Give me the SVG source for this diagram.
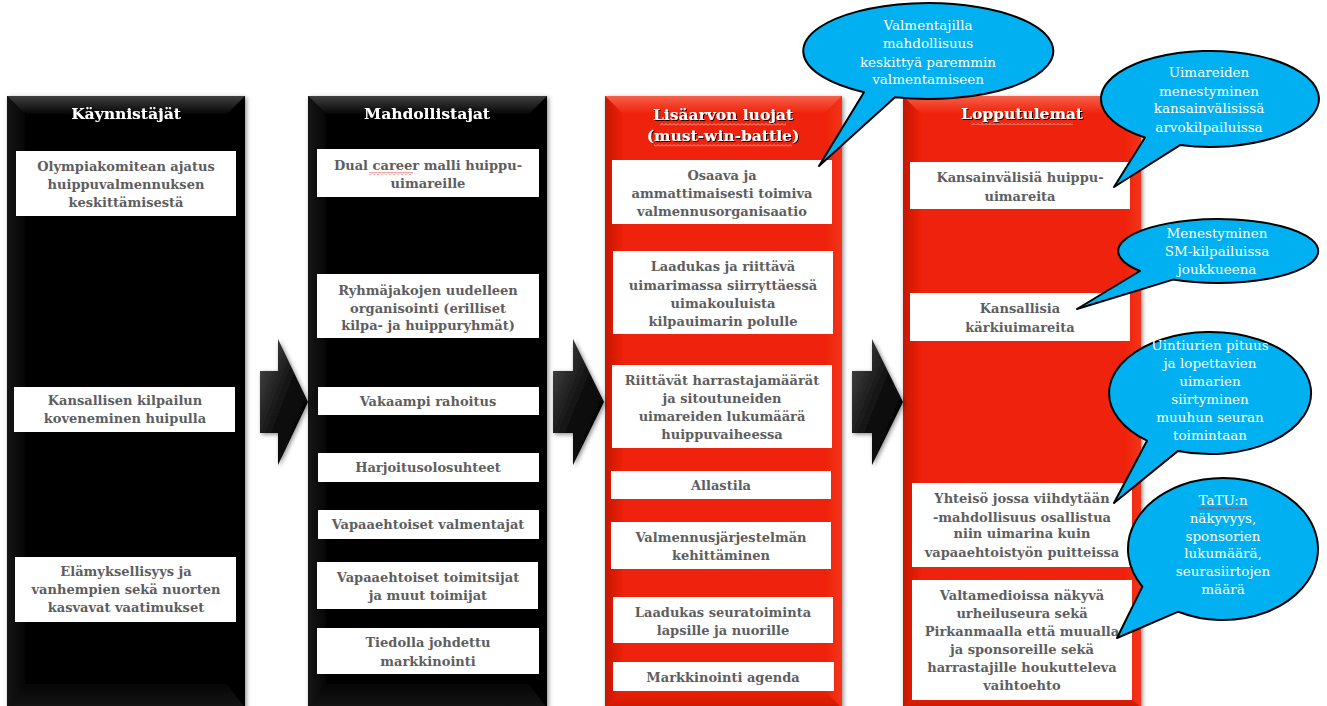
<svg xmlns="http://www.w3.org/2000/svg" width="1327" height="706" viewBox="0 0 1327 706">
<defs>
<style>
.bx{fill:#fff}
.bt{font-family:"DejaVu Serif","Liberation Serif",serif;font-weight:bold;font-size:13px;fill:#5e5e5e;text-anchor:middle}
.tt{font-family:"DejaVu Serif","Liberation Serif",serif;font-weight:bold;font-size:15.5px;fill:#fff;text-anchor:middle;filter:url(#tsh)}
.ct{font-family:"DejaVu Serif","Liberation Serif",serif;font-size:13.5px;fill:#fff;text-anchor:middle}
.call{fill:#00B0F0;stroke:#000;stroke-width:2;stroke-linejoin:round}
.blk{fill:#050505}
.red{fill:#EF2008}
</style>
<filter id="sh" x="-10%" y="-10%" width="120%" height="120%"><feDropShadow dx="1.5" dy="1.5" stdDeviation="2" flood-color="#000" flood-opacity="0.45"/></filter>
<filter id="tsh" x="-10%" y="-30%" width="120%" height="160%"><feDropShadow dx="1" dy="1" stdDeviation="0.6" flood-color="#000" flood-opacity="0.9"/></filter>
<linearGradient id="bTop" x1="0" y1="0" x2="0" y2="1"><stop offset="0" stop-color="#404040"/><stop offset="1" stop-color="#060606"/></linearGradient>
<linearGradient id="bBot" x1="0" y1="0" x2="0" y2="1"><stop offset="0" stop-color="#060606"/><stop offset="1" stop-color="#141414"/></linearGradient>
<linearGradient id="bSide" x1="0" y1="0" x2="1" y2="0"><stop offset="0" stop-color="#161616"/><stop offset="1" stop-color="#060606"/></linearGradient>
<linearGradient id="rTop" x1="0" y1="0" x2="0" y2="1"><stop offset="0" stop-color="#F6604A"/><stop offset="1" stop-color="#EF2008"/></linearGradient>
<linearGradient id="rLeft" x1="0" y1="0" x2="1" y2="0"><stop offset="0" stop-color="#C41700"/><stop offset="1" stop-color="#EF2008"/></linearGradient>
<linearGradient id="rRight" x1="0" y1="0" x2="1" y2="0"><stop offset="0" stop-color="#EF2008"/><stop offset="1" stop-color="#F2351C"/></linearGradient>
<linearGradient id="rBot" x1="0" y1="0" x2="0" y2="1"><stop offset="0" stop-color="#EF2008"/><stop offset="1" stop-color="#CC1900"/></linearGradient>
<linearGradient id="arr" x1="0" y1="0" x2="1" y2="1"><stop offset="0" stop-color="#4d4d4d"/><stop offset="0.55" stop-color="#0a0a0a"/><stop offset="1" stop-color="#000"/></linearGradient>
<pattern id="sq" width="4" height="3" patternUnits="userSpaceOnUse"><path d="M0 2.5 L2 0.5 L4 2.5" fill="none" stroke="#E02020" stroke-width="0.8"/></pattern>
<pattern id="sqw" width="4" height="3" patternUnits="userSpaceOnUse"><path d="M0 2.5 L2 0.5 L4 2.5" fill="none" stroke="#FBC7BC" stroke-width="0.8"/></pattern>
</defs>
<rect width="1327" height="706" fill="#fff"/>

<!-- Column 1 -->
<g id="col-kaynnistajat">
<g filter="url(#sh)"><rect x="7" y="96" width="238" height="612" class="blk"/></g>
<polygon points="7,96 245,96 227,114 25,114" fill="url(#bTop)"/>
<polygon points="7,96 25,114 25,690 7,708" fill="url(#bSide)"/>
<polygon points="7,708 25,684 227,684 245,708" fill="url(#bBot)"/>
<text class="tt" x="126" y="119">Käynnistäjät</text>
</g>
<!-- Column 2 -->
<g id="col-mahdollistajat">
<g filter="url(#sh)"><rect x="308" y="96" width="239" height="612" class="blk"/></g>
<polygon points="308,96 547,96 529,114 326,114" fill="url(#bTop)"/>
<polygon points="308,96 326,114 326,690 308,708" fill="url(#bSide)"/>
<polygon points="308,708 326,684 529,684 547,708" fill="url(#bBot)"/>
<text class="tt" x="427" y="119">Mahdollistajat</text>
</g>
<!-- Column 3 -->
<g id="col-lisaarvon-luojat">
<g filter="url(#sh)"><rect x="605" y="96" width="237" height="612" class="red"/></g>
<polygon points="605,96 842,96 824,114 623,114" fill="url(#rTop)"/>
<polygon points="605,96 623,114 623,690 605,708" fill="url(#rLeft)"/>
<polygon points="842,96 824,114 824,690 842,708" fill="url(#rRight)"/>
<polygon points="605,708 623,690 824,690 842,708" fill="url(#rBot)"/>
<text class="tt" x="723" y="120">Lisäarvon luojat</text>
<text class="tt" x="723" y="141">(must-win-battle)</text>
<rect x="660" y="123" width="126" height="3" fill="url(#sqw)"/>
<rect x="654" y="144" width="138" height="3" fill="url(#sqw)"/>
</g>
<!-- Column 4 -->
<g id="col-lopputulemat">
<g filter="url(#sh)"><rect x="903" y="96" width="238" height="612" class="red"/></g>
<polygon points="903,96 1141,96 1123,114 921,114" fill="url(#rTop)"/>
<polygon points="903,96 921,114 921,690 903,708" fill="url(#rLeft)"/>
<polygon points="1141,96 1123,114 1123,690 1141,708" fill="url(#rRight)"/>
<polygon points="903,708 921,690 1123,690 1141,708" fill="url(#rBot)"/>
<text class="tt" x="1022" y="119">Lopputulemat</text>
<rect x="971" y="122" width="102" height="3" fill="url(#sqw)"/>
</g>

<!-- Connectors -->
<g id="connectors" filter="url(#sh)">
<polygon points="260,371 278,371 278,339 308,402 278,465 278,433 260,433" fill="url(#arr)"/>
<polygon points="553,371 573,371 573,339 604,402 573,465 573,433 553,433" fill="url(#arr)"/>
<polygon points="852,371 872,371 872,339 903,402 872,465 872,433 852,433" fill="url(#arr)"/>
</g>

<!-- Column 1 boxes -->
<g id="n-olympiakomitean"><rect class="bx" x="16" y="151" width="220" height="65"/>
<text class="bt" x="126" y="171">Olympiakomitean ajatus</text><text class="bt" x="126" y="189">huippuvalmennuksen</text><text class="bt" x="126" y="207">keskittämisestä</text></g>
<g id="n-kansallisen"><rect class="bx" x="14" y="387" width="221" height="45"/>
<text class="bt" x="125" y="405">Kansallisen kilpailun</text><text class="bt" x="125" y="423">koveneminen huipulla</text></g>
<g id="n-elamyksellisyys"><rect class="bx" x="15" y="557" width="221" height="65"/>
<text class="bt" x="126" y="576">Elämyksellisyys ja</text><text class="bt" x="126" y="594">vanhempien sekä nuorten</text><text class="bt" x="126" y="612">kasvavat vaatimukset</text></g>

<!-- Column 2 boxes -->
<g id="n-dual-career"><rect class="bx" x="317" y="149" width="222" height="48"/>
<text class="bt" x="428" y="170">Dual career malli huippu-</text><text class="bt" x="428" y="188">uimareille</text>
<rect x="369" y="172" width="44" height="3" fill="url(#sq)"/></g>
<g id="n-ryhmajakojen"><rect class="bx" x="317" y="274" width="222" height="64"/>
<text class="bt" x="428" y="295">Ryhmäjakojen uudelleen</text><text class="bt" x="428" y="313">organisointi (erilliset</text><text class="bt" x="428" y="330">kilpa- ja huippuryhmät)</text></g>
<g id="n-vakaampi"><rect class="bx" x="318" y="387" width="221" height="28"/>
<text class="bt" x="428" y="406">Vakaampi rahoitus</text></g>
<g id="n-harjoitus"><rect class="bx" x="318" y="453" width="221" height="29"/>
<text class="bt" x="428" y="472">Harjoitusolosuhteet</text></g>
<g id="n-vapaaeht-valm"><rect class="bx" x="318" y="510" width="221" height="29"/>
<text class="bt" x="428" y="529">Vapaaehtoiset valmentajat</text></g>
<g id="n-vapaaeht-toim"><rect class="bx" x="317" y="562" width="221" height="47"/>
<text class="bt" x="428" y="582">Vapaaehtoiset toimitsijat</text><text class="bt" x="428" y="600">ja muut toimijat</text></g>
<g id="n-tiedolla"><rect class="bx" x="317" y="628" width="222" height="46"/>
<text class="bt" x="428" y="647">Tiedolla johdettu</text><text class="bt" x="428" y="666">markkinointi</text></g>

<!-- Column 3 boxes -->
<g id="n-osaava"><rect class="bx" x="612" y="160" width="220" height="64"/>
<text class="bt" x="722" y="180">Osaava ja</text><text class="bt" x="722" y="198">ammattimaisesti toimiva</text><text class="bt" x="722" y="216">valmennusorganisaatio</text></g>
<g id="n-laadukas-riittava"><rect class="bx" x="613" y="251" width="220" height="83"/>
<text class="bt" x="723" y="271">Laadukas ja riittävä</text><text class="bt" x="723" y="290">uimarimassa siirryttäessä</text><text class="bt" x="723" y="308">uimakouluista</text><text class="bt" x="723" y="326">kilpauimarin polulle</text></g>
<g id="n-riittavat"><rect class="bx" x="612" y="365" width="220" height="83"/>
<text class="bt" x="722" y="385">Riittävät harrastajamäärät</text><text class="bt" x="722" y="403">ja sitoutuneiden</text><text class="bt" x="722" y="421">uimareiden lukumäärä</text><text class="bt" x="722" y="439">huippuvaiheessa</text></g>
<g id="n-allastila"><rect class="bx" x="611" y="471" width="220" height="28"/>
<text class="bt" x="721" y="490">Allastila</text></g>
<g id="n-valmennusjarj"><rect class="bx" x="611" y="522" width="220" height="47"/>
<text class="bt" x="721" y="542">Valmennusjärjestelmän</text><text class="bt" x="721" y="560">kehittäminen</text></g>
<g id="n-laadukas-seura"><rect class="bx" x="613" y="597" width="220" height="46"/>
<text class="bt" x="723" y="617">Laadukas seuratoiminta</text><text class="bt" x="723" y="635">lapsille ja nuorille</text></g>
<g id="n-markkinointi"><rect class="bx" x="613" y="662" width="221" height="29"/>
<text class="bt" x="723" y="682">Markkinointi agenda</text></g>

<!-- Column 4 boxes -->
<g id="n-kansainvalisia"><rect class="bx" x="910" y="162" width="220" height="47"/>
<text class="bt" x="1020" y="182">Kansainvälisiä huippu-</text><text class="bt" x="1020" y="201">uimareita</text></g>
<g id="n-kansallisia"><rect class="bx" x="910" y="293" width="220" height="48"/>
<text class="bt" x="1020" y="313">Kansallisia</text><text class="bt" x="1020" y="332">kärkiuimareita</text></g>
<g id="n-yhteiso"><rect class="bx" x="912" y="483" width="220" height="84"/>
<text class="bt" x="1022" y="503">Yhteisö jossa viihdytään</text><text class="bt" x="1022" y="522">-mahdollisuus osallistua</text><text class="bt" x="1022" y="538">niin uimarina kuin</text><text class="bt" x="1022" y="557">vapaaehtoistyön puitteissa</text></g>
<g id="n-valtamedioissa"><rect class="bx" x="912" y="580" width="220" height="120"/>
<text class="bt" x="1022" y="600">Valtamedioissa näkyvä</text><text class="bt" x="1022" y="618">urheiluseura sekä</text><text class="bt" x="1022" y="636">Pirkanmaalla että muualla</text><text class="bt" x="1022" y="654">ja sponsoreille sekä</text><text class="bt" x="1022" y="672">harrastajille houkutteleva</text><text class="bt" x="1022" y="690">vaihtoehto</text></g>

<!-- Callouts -->
<g id="c-valmentajilla">
<path class="call" d="M895 97.3 A125 48 0 1 0 864 92.2 L819 166 Z"/>
<text class="ct" x="928" y="30">Valmentajilla</text><text class="ct" x="928" y="48">mahdollisuus</text><text class="ct" x="928" y="67">keskittyä paremmin</text><text class="ct" x="928" y="84">valmentamiseen</text>
</g>
<g id="c-uimareiden">
<path class="call" d="M1180 145.1 A109 48 0 1 0 1145 137.5 L1114 187 Z"/>
<text class="ct" x="1209" y="77">Uimareiden</text><text class="ct" x="1209" y="96">menestyminen</text><text class="ct" x="1209" y="113">kansainvälisissä</text><text class="ct" x="1209" y="132">arvokilpailuissa</text>
</g>
<g id="c-menestyminen">
<path class="call" d="M1173 279.6 A100 32 0 1 0 1140 271 L1077 309 Z"/>
<text class="ct" x="1217" y="238">Menestyminen</text><text class="ct" x="1217" y="256">SM-kilpailuissa</text><text class="ct" x="1217" y="274">joukkueena</text>
</g>
<g id="c-uintiurien">
<path class="call" d="M1178 450.9 A101 61 0 1 0 1147 440.7 L1114 503 Z"/>
<text class="ct" x="1210" y="350">Uintiurien  pituus</text><text class="ct" x="1210" y="368">ja lopettavien</text><text class="ct" x="1210" y="386">uimarien</text><text class="ct" x="1210" y="404">siirtyminen</text><text class="ct" x="1210" y="422">muuhun seuran</text><text class="ct" x="1210" y="440">toimintaan</text>
</g>
<g id="c-tatu">
<path class="call" d="M1178.4 611.7 A95 71 0 1 0 1142.4 586.6 L1117 638 Z"/>
<text class="ct" x="1223" y="505">TaTU:n</text><text class="ct" x="1223" y="523">näkyvyys,</text><text class="ct" x="1223" y="541">sponsorien</text><text class="ct" x="1223" y="558">lukumäärä,</text><text class="ct" x="1223" y="576">seurasiirtojen</text><text class="ct" x="1223" y="594">määrä</text>
<rect x="1198" y="507" width="50" height="3" fill="url(#sq)"/>
</g>
</svg>
